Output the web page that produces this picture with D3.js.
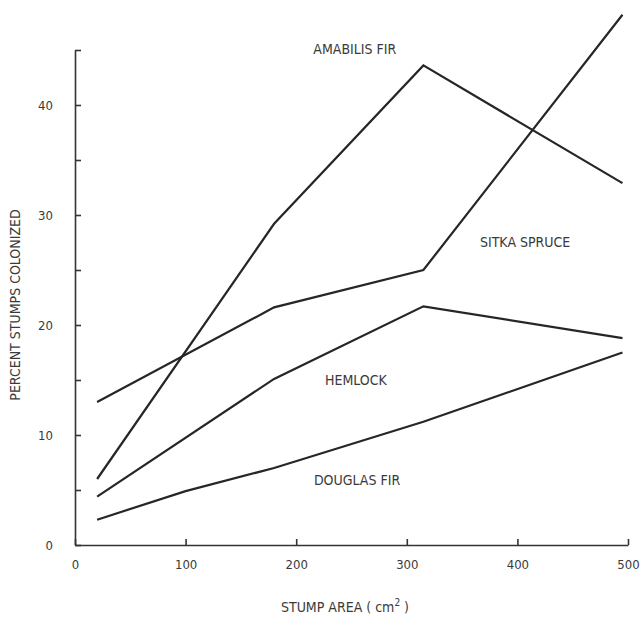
<!DOCTYPE html>
<html><head><meta charset="utf-8">
<script src="https://cdn.jsdelivr.net/npm/d3@7/dist/d3.min.js"></script>
<style>
html,body{margin:0;padding:0;background:#fff;}
svg text{font-family:"Liberation Sans Narrow","DejaVu Sans Condensed","Roboto",sans-serif;fill:#3a3a3a;}
</style></head>
<body><svg id="chart" width="644" height="628"></svg>
<script>
const stumpArea = [20, 180, 315, 495];
const douglasArea = [20, 100, 180, 315, 495];
const amabilisFir = [6.0, 29.2, 43.6, 32.9];
const sitkaSpruce = [13.0, 21.6, 25.0, 48.2];
const hemlock = [4.4, 15.1, 21.7, 18.8];
const douglasFir = [2.3, 4.9, 7.0, 11.2, 17.5];
const xTicks = [0, 100, 200, 300, 400, 500];
const yTicks = [0, 10, 20, 30, 40];
const yMinorTicks = [5, 15, 25, 35, 45];
const seriesLabels = [
  {name: "AMABILIS FIR", x: 253, y: 45.0},
  {name: "SITKA SPRUCE", x: 407, y: 27.5},
  {name: "HEMLOCK", x: 254, y: 14.9},
  {name: "DOUGLAS FIR", x: 255, y: 5.8}
];

const svg = d3.select("#chart");
const x = d3.scaleLinear().domain([0, 500]).range([75, 628]);
const y = d3.scaleLinear().domain([0, 45]).range([545, 50]);

// axes
const gx = svg.append("g").attr("transform", "translate(0,545)")
  .call(d3.axisBottom(x).tickValues(xTicks).tickSize(-6).tickPadding(15).tickSizeOuter(0));
const gy = svg.append("g").attr("transform", "translate(75,0)")
  .call(d3.axisLeft(y).tickValues(yTicks).tickSize(-6).tickPadding(22).tickSizeOuter(0));
svg.append("g").attr("transform", "translate(75,0)")
  .call(d3.axisLeft(y).tickValues(yMinorTicks).tickSize(-6).tickFormat("").tickSizeOuter(0))
  .select(".domain").remove();
svg.selectAll(".domain, .tick line").attr("stroke", "#333").attr("stroke-width", 1.6);
svg.selectAll(".tick text").attr("font-size", 13).style("fill", "#3a3a3a");

// lines
const line = d3.line().x(d => x(d[0])).y(d => y(d[1]));
const series = [
  d3.zip(stumpArea, amabilisFir),
  d3.zip(stumpArea, sitkaSpruce),
  d3.zip(stumpArea, hemlock),
  d3.zip(douglasArea, douglasFir)
];
svg.append("g").selectAll("path").data(series).join("path")
  .attr("d", line).attr("fill", "none").attr("stroke", "#262626")
  .attr("stroke-width", 2.2).attr("stroke-linejoin", "miter");

// series labels
svg.append("g").selectAll("text").data(seriesLabels).join("text")
  .attr("x", d => x(d.x)).attr("y", d => y(d.y))
  .attr("text-anchor", "middle").attr("dominant-baseline", "middle")
  .attr("font-size", 14).text(d => d.name);

// axis titles
const xt = svg.append("text").attr("x", 345).attr("y", 612).attr("text-anchor", "middle").attr("font-size", 14);
xt.append("tspan").text("STUMP AREA ( cm");
xt.append("tspan").attr("dy", -6).attr("font-size", 10).text("2");
xt.append("tspan").attr("dy", 6).text(" )");

svg.append("text").attr("transform", "translate(20,305) rotate(-90)")
  .attr("text-anchor", "middle").attr("font-size", 14).text("PERCENT STUMPS COLONIZED");
</script></body></html>
